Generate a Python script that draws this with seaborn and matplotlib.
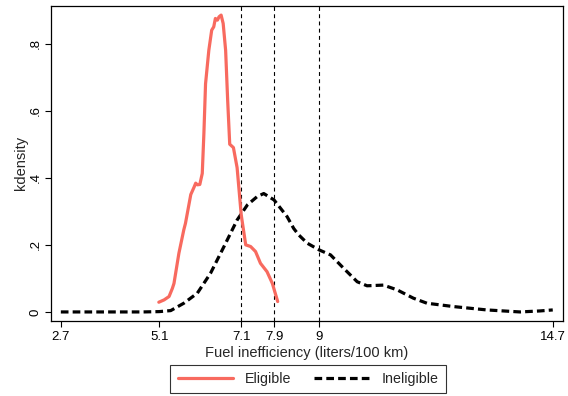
import matplotlib
matplotlib.use("Agg")
import matplotlib.pyplot as plt
import seaborn as sns
import pandas as pd
from matplotlib.lines import Line2D

# Eligible kdensity
elig_x = [5.09, 5.22, 5.34, 5.42, 5.46, 5.58, 5.70, 5.74, 5.87, 5.95, 5.99, 6.03, 6.09,
          6.15, 6.19, 6.23, 6.31, 6.38, 6.43, 6.47, 6.52, 6.56, 6.61, 6.66, 6.72, 6.77,
          6.82, 6.91, 7.00, 7.10, 7.21, 7.33, 7.45, 7.57, 7.73, 7.86, 7.99]
elig_y = [0.029, 0.036, 0.046, 0.070, 0.085, 0.175, 0.245, 0.264, 0.350, 0.372, 0.384, 0.379, 0.380,
          0.413, 0.533, 0.680, 0.780, 0.840, 0.850, 0.875, 0.870, 0.880, 0.885, 0.860, 0.780, 0.630,
          0.500, 0.490, 0.430, 0.290, 0.200, 0.195, 0.180, 0.145, 0.120, 0.085, 0.031]

# Ineligible kdensity
inel_x = [2.70, 3.20, 3.70, 4.20, 4.70, 5.10, 5.38, 5.70, 6.03, 6.35, 6.68, 7.00, 7.25,
          7.49, 7.65, 7.90, 8.06, 8.22, 8.38, 8.50, 8.71, 9.00, 9.28, 9.60, 9.93, 10.17,
          10.57, 10.90, 11.30, 11.63, 12.28, 13.09, 13.90, 14.39, 14.70]
inel_y = [0.000, 0.000, 0.000, 0.000, 0.000, 0.001, 0.004, 0.026, 0.056, 0.115, 0.195, 0.274, 0.319,
          0.344, 0.353, 0.334, 0.309, 0.284, 0.249, 0.230, 0.205, 0.185, 0.170, 0.130, 0.090, 0.078,
          0.080, 0.066, 0.041, 0.026, 0.016, 0.006, 0.000, 0.003, 0.006]

vlines = [7.1, 7.9, 9.0]
xticks = [2.7, 5.1, 7.1, 7.9, 9.0, 14.7]
xticklabels = ["2.7", "5.1", "7.1", "7.9", "9", "14.7"]
yticks = [0, 0.2, 0.4, 0.6, 0.8]
yticklabels = ["0", ".2", ".4", ".6", ".8"]

sns.set_style("white")
plt.rcParams['font.family'] = ['Liberation Sans', 'DejaVu Sans']

RED = "#F86A5F"

fig = plt.figure(figsize=(5.68, 3.96), dpi=100)
ax = fig.add_axes([51/568, 1-321/396, (563-51)/568, (321-5.7)/396])

df_e = pd.DataFrame({"x": elig_x, "y": elig_y})
df_i = pd.DataFrame({"x": inel_x, "y": inel_y})

for v in vlines:
    ax.axvline(v, color="black", lw=0.8, ls=(0, (3.5, 3)), zorder=1)

sns.lineplot(data=df_e, x="x", y="y", ax=ax, color=RED, lw=2.3, sort=False,
             estimator=None, zorder=3)
sns.lineplot(data=df_i, x="x", y="y", ax=ax, color="black", lw=2.3, sort=False,
             estimator=None, zorder=2)
ax.lines[-1].set_dashes((2.4, 1.3))

ax.set_xlim(2.46, 14.95)
ax.set_ylim(-0.027, 0.913)
ax.set_xticks(xticks)
ax.set_xticklabels(xticklabels)
ax.set_yticks(yticks)
ax.set_yticklabels(yticklabels, rotation=90, va="center")
ax.tick_params(axis="both", which="both", direction="out", length=4, width=0.8,
               labelsize=9.5, colors="black", bottom=True, left=True, pad=3)
for s in ax.spines.values():
    s.set_color("black")
    s.set_linewidth(0.9)
ax.set_xlabel("Fuel inefficiency (liters/100 km)", fontsize=10.5, labelpad=2)
ax.set_ylabel("kdensity", fontsize=10.5, labelpad=1)

handles = [Line2D([], [], color=RED, lw=2.3),
           Line2D([], [], color="black", lw=2.3, dashes=(2.4, 1.3))]
leg = fig.legend(handles, ["Eligible", "Ineligible"], loc="lower center",
                 bbox_to_anchor=(308/568, 3/396), ncol=2, frameon=True, fancybox=False,
                 edgecolor="black", fontsize=10.3, handlelength=3.9, columnspacing=1.6,
                 borderpad=0.5, handletextpad=0.8, borderaxespad=0)
leg.get_frame().set_linewidth(0.8)

fig.savefig("out.png", dpi=100, facecolor="white")
